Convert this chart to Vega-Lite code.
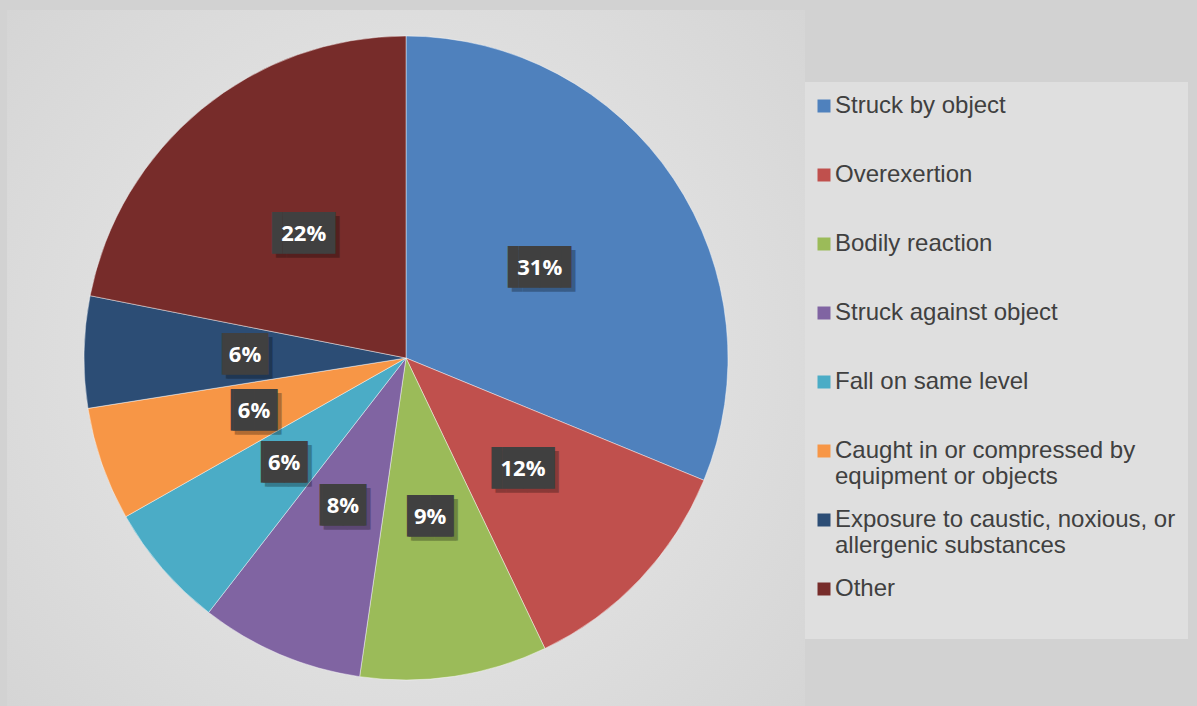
{
  "$schema": "https://vega.github.io/schema/vega-lite/v6.json",
  "width": 798,
  "height": 696,
  "autosize": {"type": "pad"},
  "padding": {"left": 7, "top": 10, "right": 11, "bottom": 0},
  "background": "#d2d2d2",
  "config": {"view": {"stroke": null}},
  "data": {
    "values": [
      {"idx": 1, "category": "Struck by object", "value": 0.312},
      {"idx": 2, "category": "Overexertion", "value": 0.117},
      {"idx": 3, "category": "Bodily reaction", "value": 0.094},
      {"idx": 4, "category": "Struck against object", "value": 0.082},
      {"idx": 5, "category": "Fall on same level", "value": 0.063},
      {"idx": 6, "category": "Caught in or compressed by equipment or objects", "value": 0.057},
      {"idx": 7, "category": "Exposure to caustic, noxious, or allergenic substances", "value": 0.056},
      {"idx": 8, "category": "Other", "value": 0.219}
    ]
  },
  "layer": [
    {
      "data": {"values": [{"bg": 1}]},
      "mark": {
        "type": "rect",
        "color": {
          "gradient": "radial",
          "x1": 0.5, "y1": 0.5, "r1": 0,
          "x2": 0.5, "y2": 0.5, "r2": 0.75,
          "stops": [
            {"offset": 0, "color": "#ececec"},
            {"offset": 1, "color": "#d2d2d2"}
          ]
        }
      },
      "encoding": {}
    },
    {
      "mark": {"type": "arc", "outerRadius": 322, "stroke": "#ffffff", "strokeWidth": 0.8, "strokeOpacity": 0.55},
      "encoding": {
        "theta": {"field": "value", "type": "quantitative", "stack": true},
        "order": {"field": "idx", "type": "quantitative"},
        "color": {
          "field": "category",
          "type": "nominal",
          "scale": {
            "domain": ["Struck by object", "Overexertion", "Bodily reaction", "Struck against object", "Fall on same level", "Caught in or compressed by equipment or objects", "Exposure to caustic, noxious, or allergenic substances", "Other"],
            "range": ["#4F81BD", "#C0504D", "#9BBB59", "#8064A2", "#4BACC6", "#F79646", "#2C4D75", "#772C2A"]
          },
          "legend": {
            "orient": "none",
            "legendX": 798,
            "legendY": 72,
            "title": null,
            "symbolType": "square",
            "symbolSize": 169,
            "symbolStrokeWidth": 0,
            "symbolOffset": -5,
            "labelFont": "Liberation Sans",
            "labelFontSize": 24,
            "labelColor": "#404040",
            "labelOffset": -1,
            "labelLimit": 400,
            "labelBaseline": "middle",
            "padding": 12,
            "fillColor": "#dfdfdf",
            "rowPadding": 19,
            "labelExpr": "datum.label == 'Caught in or compressed by equipment or objects' ? ['Caught in or compressed by', 'equipment or objects'] : datum.label == 'Exposure to caustic, noxious, or allergenic substances' ? ['Exposure to caustic, noxious, or', 'allergenic substances'] : [datum.label, '']",
            "encode": {"labels": {"update": {"lineHeight": {"value": 28}}}}
          }
        }
      }
    },
    {
      "mark": {"type": "text", "radius": 161, "font": "DejaVu Sans Mono", "fontSize": 35, "color": "#000000", "opacity": 0.28, "dx": 4, "dy": 4},
      "encoding": {
        "theta": {"field": "value", "type": "quantitative", "stack": true},
        "order": {"field": "idx", "type": "quantitative"},
        "text": {"condition": {"test": "datum.value >= 0.095", "value": "▐██▌"}, "value": "▕██▏"}
      }
    },
    {
      "mark": {"type": "text", "radius": 161, "font": "DejaVu Sans Mono", "fontSize": 35, "color": "#404040"},
      "encoding": {
        "theta": {"field": "value", "type": "quantitative", "stack": true},
        "order": {"field": "idx", "type": "quantitative"},
        "text": {"condition": {"test": "datum.value >= 0.095", "value": "▐██▌"}, "value": "▕██▏"}
      }
    },
    {
      "mark": {"type": "text", "radius": 161, "font": "Open Sans", "fontSize": 22, "fontWeight": "bold", "color": "#ffffff"},
      "encoding": {
        "theta": {"field": "value", "type": "quantitative", "stack": true},
        "order": {"field": "idx", "type": "quantitative"},
        "text": {"field": "value", "type": "quantitative", "format": ".0%"}
      }
    }
  ]
}
